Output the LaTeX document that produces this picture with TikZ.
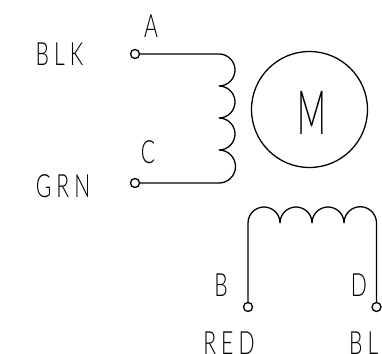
\documentclass[tikz,border=0pt]{standalone}
\usepackage{fontspec}
\setmainfont{Liberation Sans}
\newfontfamily\lab[LetterSpace=24]{Lato Light}
\newfontfamily\labm{Lato Light}
\tikzset{
  wire/.style={line width=1.3pt,line join=round,line cap=round},
  term/.style={circle,draw,line width=1.3pt,minimum size=9pt,inner sep=0pt,fill=white},
  lbl/.style={inner sep=0pt,font=\lab\fontsize{32}{32}\selectfont,xscale=.66},
  lblm/.style={inner sep=0pt,font=\labm\fontsize{61}{61}\selectfont,xscale=.52}
}
\begin{document}
\begin{tikzpicture}[x=1pt,y=1pt]
\useasboundingbox[clip] (0,0) rectangle (382,353);
\node[term] (tA) at (135,299) {};
\node[term] (tC) at (135,170) {};
\node[term] (tB) at (248,46) {};
\node[term] (tD) at (376.5,46) {};
\coordinate (c1) at (219,299);
\coordinate (c2) at (219,170);
\coordinate (c3) at (248,130);
\coordinate (c4) at (376.5,130);
\draw[wire] (tA) -- (c1) arc[start angle=90,end angle=-90,radius=16pt]
  arc[start angle=90,end angle=-90,radius=16pt]
  arc[start angle=90,end angle=-90,radius=16pt]
  arc[start angle=90,end angle=-90,radius=16.5pt] -- (tC);
\draw[wire] (tB) -- (c3) arc[start angle=180,end angle=0,radius=16pt]
  arc[start angle=180,end angle=0,radius=16pt]
  arc[start angle=180,end angle=0,radius=16pt]
  arc[start angle=180,end angle=0,radius=16.25pt] -- (tD);
\node[circle,draw,line width=1.3pt,minimum size=116pt,inner sep=0pt] (motor) at (309.5,243.5) {};
\node[lblm] (lM) at (311.5,240.5) {M};
\node[lbl] (lA) at (151,327) {A};
\node[lbl] (lBLK) at (59.5,299) {BLK};
\node[lbl] (lC) at (148,201) {C};
\node[lbl] (lGRN) at (63,167) {GRN};
\node[lbl] (lB) at (221,68) {B};
\node[lbl] (lD) at (359,68) {D};
\node[lbl] (lRED) at (229,10) {RED};
\node[lbl,anchor=west] (lBL) at (349,10) {BL};
\end{tikzpicture}
\end{document}
